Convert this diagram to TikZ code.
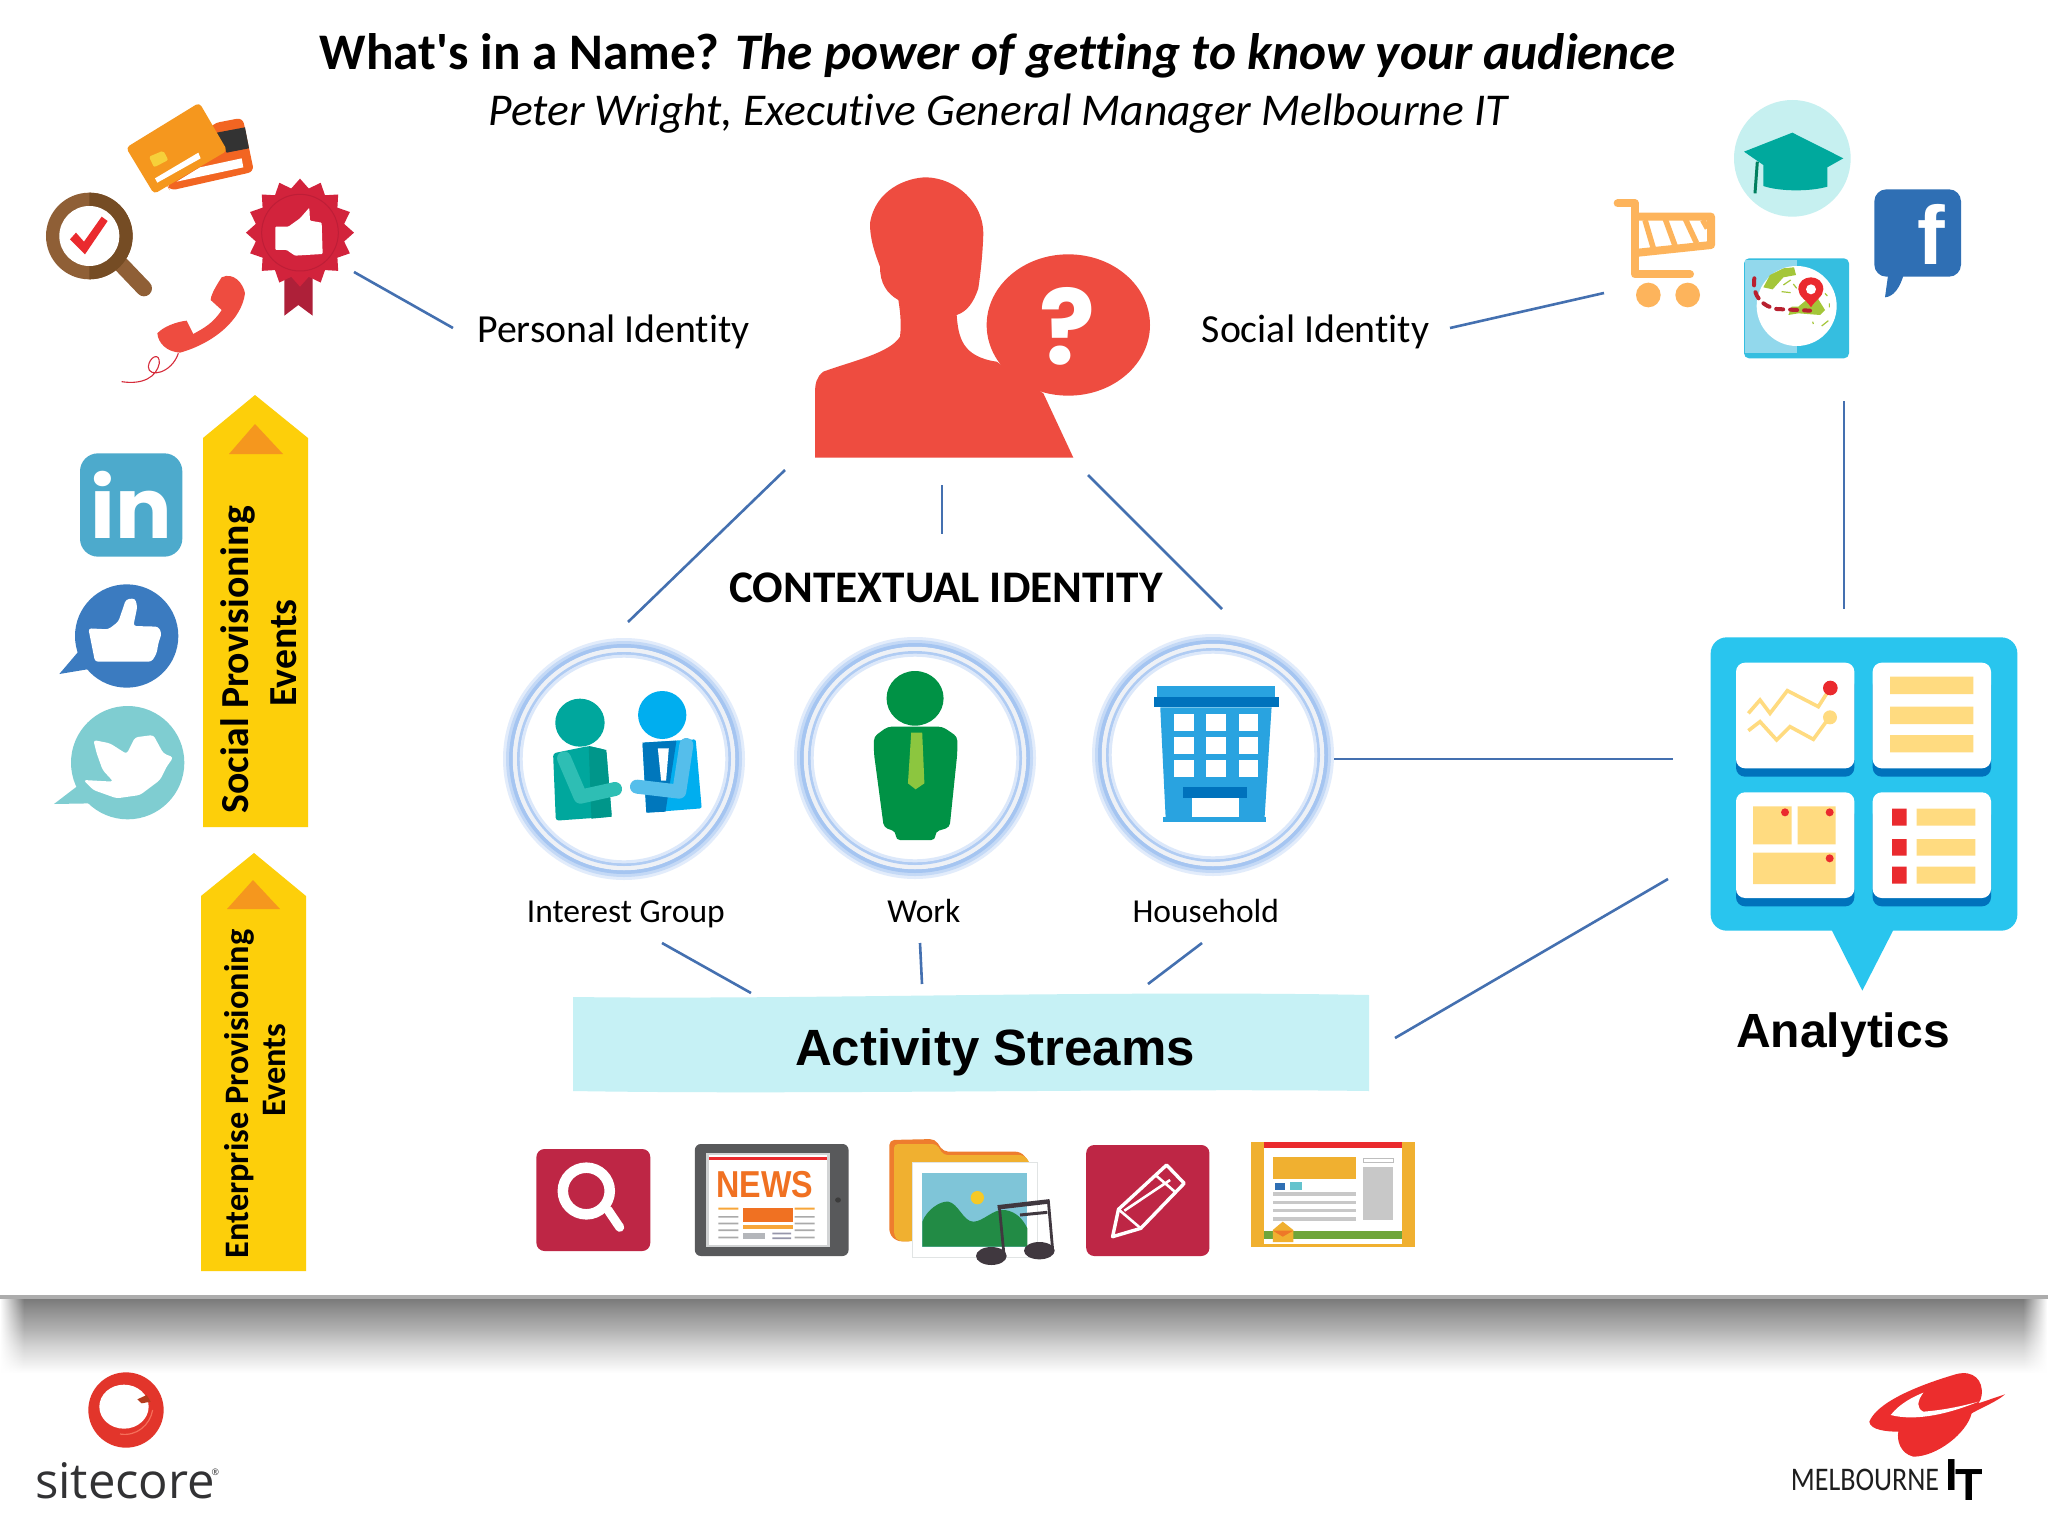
\documentclass[tikz,border=0pt]{standalone}
\usepackage{fontspec}
\setmainfont{Carlito}
\newfontfamily\fcar{Carlito}[Ligatures=NoCommon]
\newfontfamily\farial{Liberation Sans}
\newfontfamily\fopen{Open Sans}
\newfontfamily\fpop{Poppins}
\newcommand{\pxs}[1]{\fontsize{#1}{#1}\selectfont}
\definecolor{linkblue}{HTML}{4470B0}
\definecolor{gold}{HTML}{FDCF0A}
\definecolor{amber}{HTML}{F5971E}
\definecolor{tomato}{HTML}{EE4C40}
\definecolor{crimson}{HTML}{BE2645}
\definecolor{sand}{HTML}{FFDB80}
\definecolor{sky}{HTML}{29C5EE}
\definecolor{deepblue}{HTML}{0072BC}
\definecolor{hotred}{HTML}{EA2A2E}
\definecolor{folder}{HTML}{F0B030}
\definecolor{cartc}{HTML}{FDB45C}
\definecolor{bldg}{HTML}{29A3E0}
\definecolor{noteink}{HTML}{40383F}
\tikzset{
  zm/.style n args={4}{shift={(#1,#2)},x=#3pt,y=-#4pt},
  ln/.style={draw=linkblue,line width=2.6pt},
  lbl/.style={inner sep=0pt,text=black},
  every node/.style={font=\fcar},
}
\newcommand{\ringat}[3]{%
  \coordinate (#1) at (#2,#3);
  \draw[line width=4pt,color={rgb,255:red,226;green,236;blue,251}] (#1) circle[radius=119];
  \draw[line width=4pt,color={rgb,255:red,196;green,217;blue,246}] (#1) circle[radius=116];
  \draw[line width=4pt,color={rgb,255:red,165;green,197;blue,241}] (#1) circle[radius=113];
  \draw[line width=4.5pt,color={rgb,255:red,238;green,241;blue,246}] (#1) circle[radius=109];
  \draw[line width=3pt,color={rgb,255:red,176;green,204;blue,243}] (#1) circle[radius=105.5];
  \draw[line width=3pt,color={rgb,255:red,220;green,232;blue,250}] (#1) circle[radius=102.8];
}
\begin{document}
\begin{tikzpicture}[x=1pt,y=-1pt]
\useasboundingbox (0,0) rectangle (2048,1536);
\fill[white] (0,0) rectangle (2048,1536);

% ---------- title
\node[lbl] (title) at (998,56) {\pxs{51.3}\bfseries What's in a Name? \itshape The power of getting to know your audience};
\node[lbl] (subtitle) at (998,114) {\pxs{45.5}\itshape Peter Wright, Executive General Manager Melbourne IT};

% ---------- connectors
\foreach \n/\a/\b in {pa/354/272,pb/453/328,sa/1450/328,sb/1604/293,ua/1844/401,ub/1844/609,
  ca/785/470,cb/628/622,da/942/485,db/942/534,ea/1088/475,eb/1222/609,
  ha/1332/759,hb/1673/759,ia/662/943,ib/751/993,wa/920/943,wb/922/984,
  oa/1202/943,ob/1148/984,aa/1395/1038,ab/1668/879}
  {\coordinate (\n) at (\a,\b);}
\foreach \p/\q in {pa/pb,sa/sb,ua/ub,ca/cb,da/db,ea/eb,ha/hb,ia/ib,wa/wb,oa/ob,aa/ab}
  {\draw[ln] (\p) -- (\q);}

% ---------- personal identity icons
\begin{scope}[zm={0}{80}{.33333}{.33333}]
  % credit cards
  \fill[color={rgb,255:red,242;green,101;blue,34},rounded corners=6pt] (640,130)--(728,113)--(762,275)--(510,332)--(500,315)--cycle;
  \fill[color={rgb,255:red,51;green,51;blue,51}] (650,158)--(735,142)--(747,205)--(680,218)--cycle;
  \fill[white] (725,235)--(730,262)--(530,305)--(600,262)--cycle;
  \fill[amber,rounded corners=4pt] (378,203)--(598,68)--(682,212)--(462,342)--cycle;
  \fill[color={rgb,255:red,246;green,208;blue,58},rounded corners=2pt] (447,230)--(490,212)--(505,240)--(462,262)--cycle;
  \fill[white] (465,295)--(595,218)--(602,235)--(472,308)--cycle;
  % magnifier
  \draw[color={rgb,255:red,143;green,95;blue,54},line width=16pt,line cap=round] (365,555)--(432,625);
  \fill[color={rgb,255:red,143;green,95;blue,54}] (268,468) circle[radius=130];
  \begin{scope}
    \clip (268,300) rectangle (420,640);
    \fill[color={rgb,255:red,117;green,76;blue,36}] (268,468) circle[radius=130];
  \end{scope}
  \fill[white] (268,468) circle[radius=90];
  \fill[hotred] (210,478)--(228,458)--(252,485)--(305,410)--(323,423)--(255,523)--cycle;
  % badge
  \fill[color={rgb,255:red,174;green,32;blue,57}] (853,590)--(938,590)--(938,707)--(895,675)--(853,707)--cycle;
  \fill[color={rgb,255:red,210;green,35;blue,60}] plot[samples at={0,...,31},variable=\k]
     ({900+(148.5+13.5*cos(180*\k))*cos(90+11.25*\k)},{458+(148.5+13.5*cos(180*\k))*sin(90+11.25*\k)}) -- cycle;
  \draw[color={rgb,255:red,190;green,30;blue,55},line width=1pt] (900,458) circle[radius=115];
  \fill[white,rounded corners=1pt] (826,440)--(865,440)--(900,415)--(928,383)--(930,422)--(965,428)--(968,522)--(885,527)--(860,510)--(826,510)--cycle;
  % phone
  \fill[tomato] (665,592) .. controls (640,630) and (632,650) .. (632,660) -- (665,690)
     .. controls (640,730) and (610,745) .. (580,762) -- (560,722)
     .. controls (530,725) and (490,740) .. (472,760)
     .. controls (475,790) and (500,815) .. (540,818)
     .. controls (640,790) and (725,720) .. (735,640)
     .. controls (730,610) and (700,575) .. (665,592) -- cycle;
  \draw[color={rgb,255:red,214;green,43;blue,58},line width=1.1pt] (535,820) .. controls (515,880) and (445,895) .. (445,860)
     .. controls (448,830) and (480,815) .. (478,850) .. controls (470,890) and (430,915) .. (365,905);
\end{scope}

% ---------- social identity icons
\begin{scope}[zm={1550}{80}{.33333}{.33333}]
  \fill[color={rgb,255:red,198;green,240;blue,240}] (727,235) circle[radius=175];
  \draw[color={rgb,255:red,0;green,127;blue,95},line width=3pt] (622,245)--(615,340);
  \fill[color={rgb,255:red,0;green,169;blue,157}] (582,215)--(727,158)--(880,235)--(832,262)--(832,320) .. controls (780,335) and (690,335) .. (640,318)--(640,255)--cycle;
  % cart
  \draw[cartc,line width=8pt,line cap=round,line join=round] (203,370)--(255,370)--(255,583)--(420,583);
  \draw[cartc,line width=8pt,line join=round] (255,410)--(483,410)--(483,495)--(265,518);
  \draw[cartc,line width=5.5pt] (285,420)--(310,505) (345,415)--(375,497) (405,415)--(440,490) (458,420)--(472,445);
  \fill[cartc] (295,645) circle[radius=37] (413,645) circle[radius=37];
  % globe
  \fill[color={rgb,255:red,53;green,190;blue,224},rounded corners=5pt] (582,535) rectangle (897,835);
  \fill[color={rgb,255:red,146;green,216;blue,236}] (586,539) rectangle (740,820);
  \fill[white] (740,678) circle[radius=120];
  \fill[color={rgb,255:red,164;green,198;blue,57}] (715,705)--(725,680)--(745,680)--(775,655)--(800,650)--(825,690)--(810,705)--(745,700)--cycle;
  \fill[color={rgb,255:red,164;green,198;blue,57}] (640,622)--(660,585)--(700,565)--(732,562)--(738,585)--(700,592)--(668,628)--cycle;
  \draw[color={rgb,255:red,164;green,198;blue,57},line width=1.2pt] (700,615)--(722,600) (695,635)--(722,638) (730,612)--(740,625) (825,640)--(832,648) (838,670)--(838,682) (815,738)--(835,722) (788,725)--(790,732);
  \draw[color={rgb,255:red,184;green,32;blue,47},line width=4pt,line cap=round,dash pattern=on 7pt off 7pt] (613,595) .. controls (605,650) and (640,680) .. (680,687) -- (780,692);
  \fill[hotred] (783,682) .. controls (770,660) and (745,650) .. (745,628) .. controls (745,580) and (820,580) .. (820,628) .. controls (820,650) and (795,660) .. (783,682) -- cycle;
  \fill[white] (783,628) circle[radius=15];
  % facebook
  \fill[color={rgb,255:red,47;green,111;blue,180}] (1015,580)--(1005,652) .. controls (1030,650) and (1050,625) .. (1062,580)--cycle;
  \fill[color={rgb,255:red,47;green,111;blue,180},rounded corners=12pt] (973,328) rectangle (1233,590);
  \node[lbl,anchor=base,text=white] (fblogo) at (1145,555) {\pxs{83}\farial\bfseries f};
\end{scope}

% ---------- social provisioning column
\begin{scope}[zm={30}{390}{.33333}{.33333}]
  \fill[color={rgb,255:red,77;green,170;blue,204},rounded corners=18pt] (150,190) rectangle (457,500);
  \node[lbl,anchor=base,text=white] (inlogo) at (305,445) {\pxs{84}\fpop\bfseries in};
  \fill[color={rgb,255:red,59;green,123;blue,192}] (290,738) circle[radius=155];
  \fill[color={rgb,255:red,59;green,123;blue,192}] (145,785)--(88,852)--(190,835)--cycle;
  \fill[white,rounded corners=3pt] (175,715)--(235,718)--(265,695)--(288,628)--(315,625)--(322,650)--(310,708)--(385,710)--(395,730)--(385,760)--(380,790)--(365,815)--(235,815)--(195,815)--cycle;
  \fill[color={rgb,255:red,127;green,205;blue,209}] (293,1118) circle[radius=170];
  \fill[color={rgb,255:red,127;green,205;blue,209}] (140,1190)--(72,1242)--(190,1240)--cycle;
  \fill[white,rounded corners=3pt] (190,1050)--(240,1060)--(290,1092)--(315,1042)--(370,1035)--(400,1090)--(430,1102)--(410,1130)--(390,1170)--(330,1215)--(260,1225)--(190,1200)--(160,1170)--(250,1175)--(218,1140)--(200,1090)--cycle;
\end{scope}
\fill[gold] (255,395)--(308,438)--(308,827)--(203,827)--(203,438)--cycle;
\fill[amber] (255,424)--(283,454)--(229,454)--cycle;
\node[lbl,rotate=90] (socprov) at (238,660) {\pxs{39.7}\bfseries Social Provisioning};
\node[lbl,rotate=90] (socevents) at (284,653) {\pxs{39.7}\bfseries Events};

\fill[gold] (254,853)--(306,896)--(306,1271)--(201,1271)--(201,896)--cycle;
\fill[amber] (253,880)--(280,909)--(227,909)--cycle;
\node[lbl,rotate=90] (entprov) at (239,1094) {\pxs{34.3}\bfseries Enterprise Provisioning};
\node[lbl,rotate=90] (entevents) at (275,1070) {\pxs{34.3}\bfseries Events};

% ---------- central person
\begin{scope}[zm={780}{160}{.33333}{.33333}]
  \fill[tomato] (105,893) -- (105,700) .. controls (105,670) and (110,650) .. (130,635)
     .. controls (210,605) and (330,580) .. (360,530)
     .. controls (365,490) and (360,450) .. (355,420)
     .. controls (320,400) and (300,370) .. (300,320)
     .. controls (285,280) and (270,240) .. (270,190)
     .. controls (285,90) and (380,52) .. (440,52)
     .. controls (530,55) and (610,130) .. (610,220)
     .. controls (608,290) and (600,350) .. (595,385)
     .. controls (580,430) and (560,455) .. (530,465)
     .. controls (535,530) and (545,590) .. (650,605)
     -- (790,700) -- (880,893) -- cycle;
  \fill[tomato] (865,495) ellipse[x radius=245,y radius=212];
  \node[lbl,anchor=base,text=white] (qmark) at (862,615) {\pxs{104}\fpop\bfseries ?};
\end{scope}

\node[lbl,anchor=base] (personal) at (609,342) {\pxs{39.8} Personal Identity};
\node[lbl,anchor=base] (social) at (1311,342) {\pxs{39.8} Social Identity};
\node[lbl] (contextual) at (946,588) {\pxs{45.2}\bfseries CONTEXTUAL IDENTITY};

% ---------- rings
\ringat{ringa}{624}{759}
\ringat{ringb}{915}{758}
\ringat{ringc}{1213}{755}
\begin{scope}[zm={490}{620}{.54847}{.33333}]
  % two people
  \fill[color={rgb,255:red,0;green,167;blue,157}] (164,308) ellipse[x radius=45,y radius=72];
  \fill[color={rgb,255:red,0;green,167;blue,157},rounded corners=3pt] (115,400)--(180,378)--(212,390)--(222,590)--(120,602)--cycle;
  \fill[color={rgb,255:red,0;green,150;blue,138}] (180,378)--(212,390)--(222,590)--(185,596)--cycle;
  \draw[color={rgb,255:red,46;green,190;blue,180},line width=14pt,line cap=round,line join=round] (135,415)--(165,530)--(228,507);
  \fill[color={rgb,255:red,0;green,174;blue,239}] (314,285) ellipse[x radius=44,y radius=72];
  \fill[color={rgb,255:red,0;green,174;blue,239},rounded corners=2pt] (278,368)--(375,358)--(386,565)--(285,578)--cycle;
  \fill[color={rgb,255:red,0;green,119;blue,188}] (278,368)--(340,362)--(320,575)--(285,578)--cycle;
  \fill[white] (306,385)--(326,385)--(321,482)--(312,482)--cycle;
  \draw[color={rgb,255:red,85;green,190;blue,235},line width=14pt,line cap=round,line join=round] (358,375)--(345,515)--(268,500);
  % worker
  \fill[color={rgb,255:red,0;green,146;blue,69}] (775,235) ellipse[x radius=52,y radius=82];
  \fill[color={rgb,255:red,0;green,146;blue,69},rounded corners=4pt] (700,350)--(725,320)--(825,320)--(852,350)--(852,400)--(838,622)--(812,635)--(812,660)--(740,660)--(740,635)--(718,622)--(700,400)--cycle;
  \fill[color={rgb,255:red,140;green,198;blue,63}] (768,338)--(788,338)--(792,490)--(776,508)--(762,490)--cycle;
  % building
  \fill[bldg] (1222,262)--(1425,262)--(1412,598)--(1232,598)--cycle;
  \fill[bldg] (1216,198) rectangle (1432,232);
  \fill[deepblue] (1210,232) rectangle (1438,262);
  \fill[deepblue] (1263,502) rectangle (1380,535);
  \fill[white] (1280,535) rectangle (1365,590);
  \fill[bldg] (1227,590) rectangle (1415,607);
  \foreach \cx in {1247,1305,1365} \foreach \cy in {282,352,420}
    {\fill[white] (\cx,\cy) rectangle ++(36,51);}
\end{scope}
\node[lbl,anchor=base] (lblint) at (622,922) {\pxs{33.5} Interest Group};
\node[lbl,anchor=base] (lblwork) at (920,922) {\pxs{33.5} Work};
\node[lbl,anchor=base] (lblhouse) at (1202,922) {\pxs{33.5} Household};

% ---------- activity streams
\fill[color={rgb,255:red,198;green,241;blue,245}] (573,997) .. controls (800,1000) and (1100,990) .. (1369,995) -- (1369,1091) .. controls (1150,1088) and (800,1095) .. (573,1091) -- cycle;
\node[lbl] (activity) at (995,1052) {\pxs{51}\farial\bfseries Activity Streams};

% ---------- bottom icons
\begin{scope}[zm={520}{1120}{.58673}{.33333}]
  % search tile
  \fill[crimson,rounded corners=8pt] (28,87) rectangle (222,393);
  \draw[white,line width=9pt,line cap=round] (150,270)--(170,322);
  \draw[white,line width=10.5pt] (113,213) ellipse[x radius=40,y radius=70];
  % tablet
  \fill[color={rgb,255:red,88;green,89;blue,91},rounded corners=6pt] (298,72) rectangle (560,408);
  \fill[color={rgb,255:red,209;green,211;blue,212}] (317,98) rectangle (528,382);
  \fill[white] (322,104) rectangle (523,375);
  \fill[hotred] (322,110) rectangle (523,120);
  \fill[color={rgb,255:red,60;green,60;blue,60}] (542,240) ellipse[x radius=5,y radius=8];
  \node[lbl,anchor=base,transform shape,xscale=.86,text={rgb,255:red,240;green,113;blue,34}] (news) at (417,232) {\pxs{37.5}\farial\bfseries NEWS};
  \fill[color={rgb,255:red,240;green,113;blue,34}] (380,263) rectangle (465,305);
  \fill[color={rgb,255:red,247;green,166;blue,58}] (380,316) rectangle (465,328);
  \fill[color={rgb,255:red,180;green,182;blue,186}] (380,338) rectangle (418,358);
  \fill[color={rgb,255:red,247;green,166;blue,58}] (338,263) rectangle (372,269) (468,263) rectangle (502,269);
  \foreach \yy in {288,308,328,350} {\fill[color={rgb,255:red,170;green,170;blue,170}] (338,\yy) rectangle (372,\yy+5) (468,\yy) rectangle (502,\yy+5);}
  \fill[color={rgb,255:red,150;green,150;blue,170}] (430,338) rectangle (462,343) (430,352) rectangle (462,357);
  % pencil tile
  \fill[crimson,rounded corners=8pt] (965,75) rectangle (1175,408);
  \draw[white,line width=3.4pt,line join=round] (1010,350)--(1020,268)--(1102,135)--(1132,190)--(1058,325)--cycle;
  \draw[white,line width=2.6pt] (1020,268)--(1058,325) (1083,165)--(1118,218) (1030,272)--(1108,180);
  % web page
  \fill[folder] (1246,65) rectangle (1525,380);
  \fill[white] (1268,65) rectangle (1503,372);
  \fill[hotred] (1268,65) rectangle (1503,85);
  \fill[folder] (1283,112) rectangle (1425,177);
  \foreach \yy in {217,242,267,292} {\fill[color={rgb,255:red,200;green,200;blue,200}] (1283,\yy) rectangle (1425,\yy+10);}
  \fill[color={rgb,255:red,200;green,200;blue,200}] (1437,140) rectangle (1488,300);
  \draw[color={rgb,255:red,190;green,190;blue,190},line width=.8pt] (1437,114) rectangle (1488,128);
  \fill[color={rgb,255:red,47;green,111;blue,180}] (1286,190) rectangle (1304,210);
  \fill[color={rgb,255:red,100;green,195;blue,205}] (1312,186) rectangle (1332,210);
  \fill[color={rgb,255:red,111;green,165;blue,59}] (1268,332) rectangle (1503,357);
  \fill[folder] (1283,330)--(1300,305)--(1318,330)--(1318,366)--(1283,366)--cycle;
  \fill[color={rgb,255:red,238;green,120;blue,40}] (1283,332)--(1318,332)--(1300,350)--cycle;
\end{scope}

% ---------- folder, photo, notes
\begin{scope}[zm={880}{1130}{.33333}{.33333}]
  \fill[color={rgb,255:red,238;green,125;blue,46},rounded corners=5pt] (28,30)--(165,27)--(190,65)--(422,65)--(452,100)--(100,200)--(100,334)--(50,334)--(28,312)--cycle;
  \fill[folder,rounded corners=4pt] (42,42)--(170,42)--(190,75)--(432,75)--(452,102)--(452,200)--(100,334)--(56,334)--(42,318)--cycle;
  \fill[white] (97,98) rectangle (472,382);
  \draw[color={rgb,255:red,225;green,228;blue,228},line width=1.4pt] (97,98) rectangle (472,382);
  \fill[color={rgb,255:red,127;green,197;blue,216}] (127,128) rectangle (442,350);
  \fill[color={rgb,255:red,246;green,201;blue,39}] (292,203) circle[radius=20];
  \fill[color={rgb,255:red,34;green,139;blue,69}] (127,275) .. controls (140,240) and (180,212) .. (205,215)
     .. controls (235,220) and (250,275) .. (280,275) .. controls (310,275) and (340,235) .. (375,240)
     .. controls (410,245) and (430,270) .. (442,295) -- (442,350) -- (127,350) -- cycle;
  \draw[noteink,line width=2.8pt] (358,230)--(372,375) (505,212)--(518,360);
  \draw[noteink,line width=4.5pt] (353,232)--(509,214);
  \draw[noteink,line width=3pt] (420,255)--(502,247);
  \fill[noteink] (334,378) ellipse[x radius=46,y radius=27] (478,362) ellipse[x radius=46,y radius=26];
\end{scope}

% ---------- analytics
\begin{scope}[zm={1680}{620}{.33333}{.33333}]
  \fill[sky,rounded corners=16pt] (92,52) rectangle (1012,932);
  \fill[sky] (455,930)--(640,930)--(547,1112)--cycle;
  \foreach \xa/\ya in {168/128,578/128,168/517,578/517}{
    \fill[deepblue,rounded corners=9pt] (\xa,\ya+40) rectangle (\xa+355,\ya+342);
    \fill[white,rounded corners=9pt] (\xa,\ya) rectangle (\xa+355,\ya+317);
  }
  \draw[sand,line width=3.6pt] (205,280)--(240,240)--(270,280)--(322,212)--(415,260)--(450,205);
  \draw[sand,line width=3.6pt] (205,332)--(240,305)--(290,360)--(330,320)--(400,358)--(448,292);
  \fill[hotred] (451,204) circle[radius=22];
  \fill[sand] (450,292) circle[radius=21];
  \fill[sand] (630,170) rectangle (880,222) (630,260) rectangle (880,312) (630,345) rectangle (880,397);
  \fill[sand] (219,559) rectangle (335,673) (353,559) rectangle (467,673) (219,698) rectangle (467,792);
  \fill[hotred] (315,577) circle[radius=12] (449,577) circle[radius=12] (449,715) circle[radius=12];
  \fill[hotred] (636,566) rectangle (680,617) (636,657) rectangle (680,707) (636,740) rectangle (680,791);
  \fill[sand] (710,566) rectangle (886,617) (710,657) rectangle (886,707) (710,740) rectangle (886,791);
\end{scope}
\node[lbl] (analytics) at (1843,1035) {\pxs{48}\farial\bfseries Analytics};

% ---------- floor shadow
\foreach \t in {0,...,73}{
  \pgfmathsetmacro{\gv}{min(1,\t<14 ? .48+.0075*\t : (\t<31 ? .585+.00676*(\t-14) : (\t<48 ? .70+.00794*(\t-31) : .835+.00635*(\t-48))))}
  \definecolor{shd}{gray}{\gv}
  \fill[shd] (0,1299+\t) rectangle (2048,1300.3+\t);
}
\fill[color={rgb,255:red,172;green,172;blue,172}] (0,1295) rectangle (2048,1299);
\foreach \i in {0,...,23}{
  \pgfmathsetmacro{\op}{1-\i/24}
  \fill[white,opacity=\op] (\i,1299) rectangle (\i+1,1373);
  \fill[white,opacity=\op] (2047-\i,1299) rectangle (2048-\i,1373);
}

% ---------- sitecore logo
\begin{scope}[zm={20}{1360}{.33333}{.33333}]
  \fill[color={rgb,255:red,226;green,53;blue,43}] (318,150) circle[radius=113];
  \fill[white] (312,140) ellipse[x radius=74,y radius=66];
  \fill[color={rgb,255:red,180;green,60;blue,30}] (352,118)--(380,105)--(392,125)--(365,130)--cycle;
  \draw[color={rgb,255:red,245;green,110;blue,90},line width=1.2pt] (300,222) .. controls (350,230) and (390,195) .. (398,150);
  \node[lbl,anchor=base,text={rgb,255:red,50;green,50;blue,52}] (sitecore) at (315,415) {\pxs{49}\fopen sitecore};
  \node[lbl,text={rgb,255:red,50;green,50;blue,52}] (sitereg) at (586,338) {\pxs{9}\fopen ®};
\end{scope}

% ---------- melbourne logo
\begin{scope}[zm={1770}{1360}{.33333}{.33333}]
  \fill[color={rgb,255:red,236;green,45;blue,45}] (298,185) .. controls (320,130) and (430,80) .. (560,42)
     .. controls (610,30) and (640,60) .. (635,105) .. controls (634,115) and (630,125) .. (625,130)
     -- (705,103) .. controls (680,125) and (640,140) .. (605,160)
     .. controls (590,220) and (500,290) .. (430,290) .. controls (390,280) and (380,240) .. (385,215)
     .. controls (350,215) and (300,210) .. (298,185) -- cycle;
  \fill[white] (362,165) .. controls (390,130) and (430,110) .. (460,98) .. controls (440,125) and (440,145) .. (460,155)
     .. controls (520,150) and (570,140) .. (625,125) .. controls (540,160) and (440,185) .. (362,165) -- cycle;
  \node[lbl,anchor=base,transform shape,xscale=.85,text={rgb,255:red,30;green,30;blue,30}] (melb) at (285,390) {\pxs{33}MELBOURNE};
  \node[lbl,anchor=base,text=black] (itI) at (545,390) {\pxs{45}\farial\bfseries I};
  \node[lbl,anchor=base,text=black] (itT) at (598,420) {\pxs{45}\farial\bfseries T};
\end{scope}
\end{tikzpicture}
\end{document}
